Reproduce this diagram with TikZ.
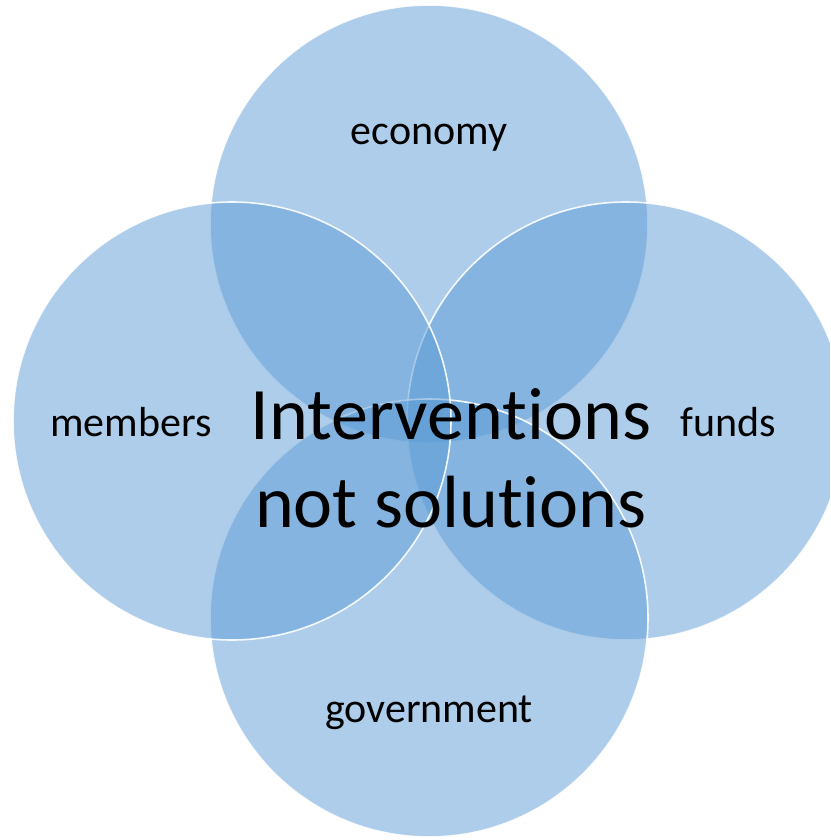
\documentclass[tikz,border=0pt]{standalone}
\usepackage{fontspec}
\setmainfont{Carlito}[Ligatures=CommonOff]
\usetikzlibrary{positioning}

\definecolor{vennblue}{HTML}{5B9BD5}

\begin{document}
\begin{tikzpicture}[
    x=1pt, y=-1pt,
    venn/.style={circle, minimum size=438pt, inner sep=0pt, outer sep=0pt,
                 fill=vennblue, fill opacity=0.5,
                 draw=white, draw opacity=0.9, line width=1.6pt},
    tag/.style={font=\fontsize{42}{50}\selectfont, inner sep=0pt},
    core/.style={font=\fontsize{74}{88}\selectfont, align=center, inner sep=0pt}
  ]
  \useasboundingbox (0,0) rectangle (830,840);
  \clip (0,0) rectangle (830,840);

  % the four sets
  \node[venn] (economy)    at (429,224) {};
  \node[venn] (funds)      at (626,421) {};
  \node[venn] (government) at (429,618) {};
  \node[venn] (members)    at (232,421) {};

  % labels
  \node[tag] (economylbl)    at (429,138) {economy};
  \node[tag] (fundslbl)      at (728,422) {funds};
  \node[tag] (governmentlbl) at (429,713) {government};
  \node[tag] (memberslbl)    at (131,422) {members};
  \node[core] (centre) at (451,458) {Interventions\\not solutions};
\end{tikzpicture}
\end{document}
